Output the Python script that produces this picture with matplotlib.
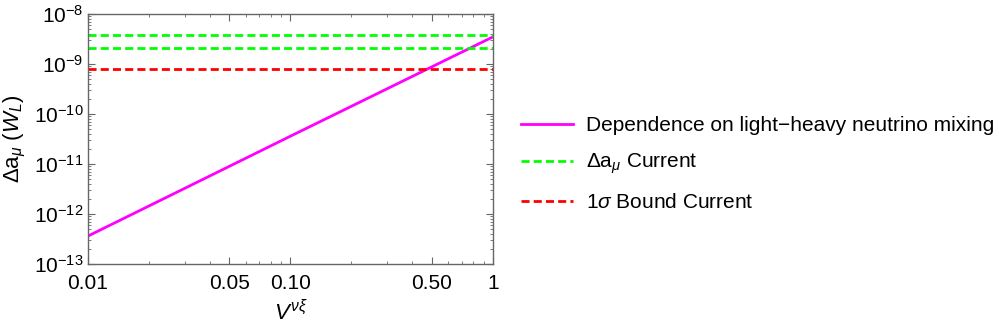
import numpy as np
import matplotlib
matplotlib.use("Agg")
import matplotlib.pyplot as plt
from matplotlib.ticker import FixedLocator, LogLocator, NullFormatter

plt.rcParams['font.family'] = ['Liberation Sans', 'DejaVu Sans']
plt.rcParams['mathtext.fontset'] = 'custom'
plt.rcParams['mathtext.rm'] = 'Liberation Sans'
plt.rcParams['mathtext.it'] = 'Liberation Sans:italic'

# light-heavy mixing dependence
mixing = [0.01, 0.1, 1.0]
delta_a = [3.6e-13, 3.6e-11, 3.5e-9]

# horizontal bounds
current_hi = 3.75e-9
current_lo = 2.12e-9
sigma_bound = 7.8e-10

xticks = [0.01, 0.05, 0.10, 0.50, 1]
xticklabels = ['0.01', '0.05', '0.10', '0.50', '1']
yticks = [1e-13, 1e-12, 1e-11, 1e-10, 1e-9, 1e-8]

fig = plt.figure(figsize=(9.99, 3.27), dpi=100)
ax = fig.add_axes([0.088, 0.193, 0.4055, 0.764])

dash = (0, (2.9, 1.5))
ax.plot(mixing, delta_a, color='#ff00ff', lw=2,
        label='Dependence on light\u2212heavy neutrino mixing')
ax.axhline(current_hi, color='#00ff00', lw=2, ls=dash,
           label=r'$\Delta \mathrm{a}_\mu$ Current')
ax.axhline(current_lo, color='#00ff00', lw=2, ls=dash)
ax.axhline(sigma_bound, color='#ff0000', lw=2, ls=dash,
           label=r'1$\sigma$ Bound Current')

ax.set_xscale('log')
ax.set_yscale('log')
ax.set_xlim(0.01, 1)
ax.set_ylim(1e-13, 1e-8)

ax.xaxis.set_major_locator(FixedLocator(xticks))
ax.set_xticklabels(xticklabels)
ax.xaxis.set_minor_locator(LogLocator(base=10, subs=np.arange(2, 10)))
ax.xaxis.set_minor_formatter(NullFormatter())
ax.yaxis.set_major_locator(FixedLocator(yticks))
ax.yaxis.set_minor_locator(LogLocator(base=10, subs=np.arange(2, 10)))
ax.yaxis.set_minor_formatter(NullFormatter())

for s in ax.spines.values():
    s.set_color('#666666')
    s.set_linewidth(1)
ax.tick_params(which='both', direction='in', top=True, right=True,
               color='#666666', labelsize=15)
ax.tick_params(which='major', length=5)
ax.tick_params(which='minor', length=2.5)
ax.tick_params(axis='x', pad=7)
ax.tick_params(axis='y', pad=3)

ax.set_xlabel(r'$V^{\nu\xi}$', fontsize=16, labelpad=5)
ax.set_ylabel(r'$\Delta$a$_\mu$ ($W_L$)', fontsize=16, labelpad=4)

leg = fig.legend(loc='upper left', bbox_to_anchor=(0.5215, 0.645), frameon=False,
                 fontsize=15, handlelength=2.5, handletextpad=0.6,
                 labelspacing=0.8, borderpad=0, borderaxespad=0)

fig.savefig('out.png', dpi=100)
